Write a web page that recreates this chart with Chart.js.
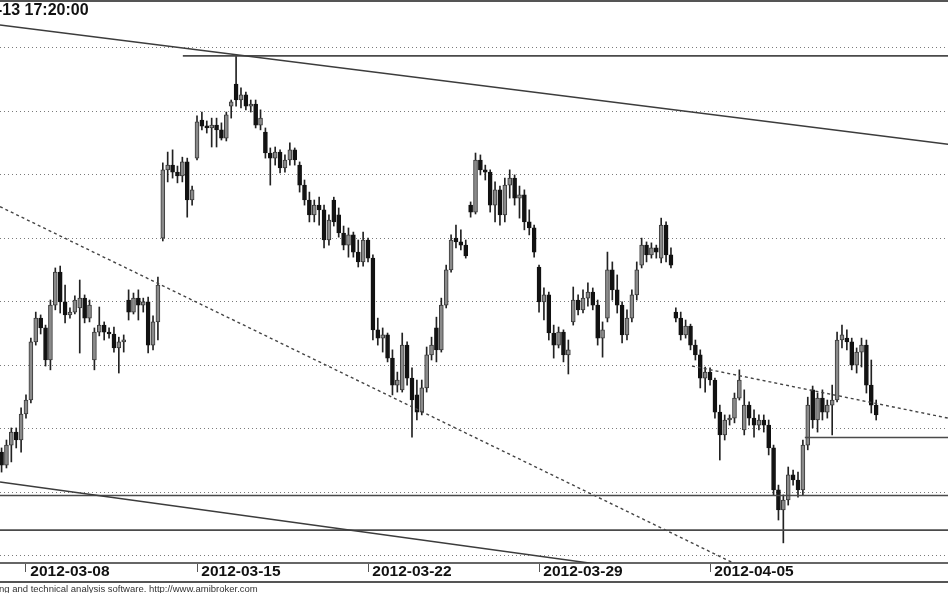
<!DOCTYPE html>
<html>
<head>
<meta charset="utf-8">
<script src="https://cdn.jsdelivr.net/npm/chart.js@4.4.0/dist/chart.umd.min.js"></script>
<style>
  html, body { margin: 0; padding: 0; background: #fff; }
  #wrap { position: relative; width: 948px; height: 593px; overflow: hidden; }
  #wrap canvas { position: absolute; left: 0; top: 0; }
  #stamp { position: absolute; left: -3px; top: 1px; font: bold 16px "Liberation Sans", Arial, sans-serif; color: #111; white-space: nowrap; }
  #credit { position: absolute; left: -1px; top: 583px; font: 9.5px "Liberation Sans", Arial, sans-serif; color: #333; white-space: nowrap; }
</style>
</head>
<body>
<div id="wrap">
  <canvas id="ohlc-chart" width="948" height="593"></canvas>
  <div id="stamp">-13 17:20:00</div>
  <div id="credit">ng and technical analysis software. http://www.amibroker.com</div>
</div>
<script>
// trading days shown, 7 hourly bars per day (first day is cut, only its last 5 bars show)
const days = [
  "2012-03-07", "2012-03-08", "2012-03-09", "2012-03-12", "2012-03-13", "2012-03-14",
  "2012-03-15", "2012-03-16", "2012-03-19", "2012-03-20", "2012-03-21", "2012-03-22",
  "2012-03-23", "2012-03-26", "2012-03-27", "2012-03-28", "2012-03-29", "2012-03-30",
  "2012-04-02", "2012-04-03", "2012-04-04", "2012-04-05", "2012-04-10", "2012-04-11",
  "2012-04-12", "2012-04-13"
];
const barsPerDay = 7;
const firstDaySkip = 2;
const tickDays = ["2012-03-08", "2012-03-15", "2012-03-22", "2012-03-29", "2012-04-05"];

// OHLC, one row per day
const opens = [
  2312.6, 2308.5, 2314.8, 2318.9, 2316.4,
  2324.6, 2329.0, 2347.3, 2354.8, 2351.7, 2341.6, 2358.9,
  2369.3, 2359.9, 2355.8, 2356.7, 2358.0, 2361.1, 2354.8,
  2341.6, 2350.4, 2352.6, 2350.4, 2349.8, 2345.4, 2347.3,
  2360.5, 2356.7, 2361.1, 2358.9, 2359.9, 2346.3, 2353.6,
  2380.0, 2401.5, 2403.0, 2400.8, 2399.6, 2404.0, 2392.0,
  2405.2, 2417.2, 2415.3, 2414.7, 2415.6, 2414.1, 2411.5,
  2421.6, 2428.5, 2423.5, 2425.1, 2421.6, 2422.2, 2415.6,
  2413.4, 2406.8, 2405.2, 2407.1, 2402.1, 2404.6, 2407.8,
  2403.0, 2396.7, 2392.0, 2387.3, 2390.4, 2388.9, 2379.4,
  2392.0, 2387.3, 2381.6, 2377.8, 2381.0, 2375.6, 2372.5,
  2379.4, 2373.7, 2351.1, 2348.5, 2349.5, 2342.2, 2333.7,
  2332.2, 2346.3, 2335.9, 2330.6, 2325.2, 2332.8, 2343.2,
  2351.7, 2344.8, 2358.9, 2370.0, 2380.0, 2378.8, 2377.8,
  2390.4, 2388.2, 2404.6, 2401.5, 2400.8, 2390.4, 2395.2,
  2387.3, 2396.7, 2398.9, 2392.6, 2393.6, 2385.1, 2383.2,
  2370.9, 2359.9, 2362.1, 2350.1, 2346.3, 2350.4, 2343.2,
  2353.6, 2360.5, 2357.4, 2361.1, 2363.0, 2358.9, 2348.5,
  2354.8, 2370.0, 2363.7, 2358.9, 2349.5, 2354.8, 2362.1,
  2371.5, 2377.8, 2374.7, 2376.9, 2373.7, 2384.1, 2374.7,
  2356.7, 2354.8, 2349.5, 2352.3, 2346.3, 2343.2, 2335.9,
  2337.8, 2335.3, 2325.2, 2318.0, 2322.7, 2323.3, 2329.6,
  2319.6, 2327.4, 2323.3, 2321.1, 2322.7, 2321.1, 2313.9,
  2300.7, 2294.4, 2297.5, 2305.4, 2303.8, 2300.7, 2314.8,
  2332.2, 2322.7, 2329.6, 2325.2, 2327.4, 2329.0, 2347.9,
  2348.5, 2347.3, 2340.0, 2344.1, 2346.3, 2333.7, 2327.4
];
const highs = [
  2313.9, 2316.4, 2320.2, 2320.2, 2326.5,
  2330.6, 2348.5, 2356.7, 2355.8, 2352.6, 2360.5, 2370.6,
  2371.2, 2365.2, 2358.0, 2361.8, 2366.8, 2362.1, 2360.5,
  2351.7, 2358.3, 2353.6, 2351.7, 2352.0, 2348.8, 2349.5,
  2363.7, 2362.7, 2363.7, 2361.1, 2361.4, 2355.5, 2367.7,
  2403.7, 2407.1, 2407.8, 2402.7, 2405.5, 2405.2, 2396.4,
  2418.5, 2419.7, 2416.9, 2417.8, 2417.8, 2416.3, 2419.7,
  2423.5, 2437.7, 2427.3, 2426.0, 2423.5, 2423.5, 2420.4,
  2414.7, 2408.4, 2408.7, 2407.8, 2406.2, 2410.0, 2408.4,
  2404.0, 2398.3, 2394.5, 2392.0, 2392.9, 2390.4, 2387.3,
  2392.9, 2389.5, 2383.8, 2383.2, 2381.9, 2379.4, 2381.9,
  2380.0, 2374.7, 2354.8, 2351.7, 2350.1, 2344.8, 2337.8,
  2350.1, 2347.3, 2339.1, 2335.3, 2335.3, 2345.7, 2348.8,
  2355.1, 2361.1, 2371.5, 2381.0, 2384.1, 2382.6, 2379.4,
  2391.4, 2406.8, 2406.2, 2403.0, 2401.5, 2397.7, 2396.4,
  2398.9, 2401.5, 2399.9, 2396.4, 2395.2, 2388.9, 2384.1,
  2371.5, 2364.3, 2363.0, 2352.6, 2352.0, 2351.1, 2347.9,
  2364.6, 2362.1, 2363.7, 2365.9, 2364.3, 2360.5, 2353.6,
  2375.6, 2372.5, 2368.4, 2359.9, 2357.4, 2363.7, 2372.5,
  2380.0, 2378.8, 2378.5, 2377.8, 2386.3, 2385.1, 2376.9,
  2358.0, 2356.7, 2354.2, 2352.9, 2347.9, 2344.8, 2339.4,
  2339.1, 2335.9, 2327.4, 2324.3, 2324.3, 2331.2, 2338.5,
  2332.2, 2328.4, 2325.9, 2324.3, 2324.3, 2322.7, 2314.8,
  2302.2, 2299.1, 2307.9, 2306.9, 2306.3, 2316.4, 2329.9,
  2333.4, 2331.2, 2332.2, 2329.0, 2333.7, 2350.4, 2352.6,
  2351.1, 2348.5, 2345.4, 2348.5, 2347.9, 2341.6, 2329.0
];
const lows = [
  2306.3, 2307.6, 2309.5, 2313.9, 2312.6,
  2323.3, 2328.1, 2346.3, 2349.8, 2339.7, 2338.5, 2357.4,
  2356.4, 2353.3, 2354.8, 2356.1, 2343.8, 2353.3, 2353.6,
  2338.5, 2349.2, 2347.9, 2348.5, 2344.1, 2337.5, 2344.1,
  2354.2, 2356.1, 2354.2, 2356.7, 2343.8, 2344.8, 2347.9,
  2379.1, 2397.7, 2398.9, 2397.4, 2397.7, 2386.6, 2390.4,
  2404.6, 2414.1, 2413.1, 2408.7, 2408.7, 2410.9, 2410.6,
  2417.8, 2421.6, 2421.0, 2420.4, 2419.7, 2414.7, 2414.1,
  2405.2, 2396.7, 2403.0, 2400.5, 2400.8, 2403.0, 2403.0,
  2394.5, 2390.4, 2385.1, 2385.1, 2384.1, 2376.9, 2377.8,
  2383.8, 2380.3, 2376.3, 2374.0, 2374.0, 2370.9, 2371.2,
  2372.5, 2347.9, 2346.3, 2344.1, 2341.0, 2330.6, 2331.5,
  2331.5, 2333.7, 2317.3, 2322.7, 2324.3, 2331.5, 2341.6,
  2341.0, 2344.1, 2358.0, 2369.3, 2376.9, 2376.3, 2373.7,
  2386.6, 2387.6, 2399.9, 2398.3, 2388.2, 2385.1, 2384.1,
  2385.1, 2392.6, 2390.4, 2386.3, 2382.6, 2381.0, 2374.0,
  2356.7, 2354.2, 2347.9, 2342.2, 2345.4, 2341.0, 2337.2,
  2352.6, 2355.8, 2356.4, 2358.6, 2357.4, 2346.3, 2342.5,
  2353.6, 2360.5, 2356.4, 2347.0, 2347.9, 2353.6, 2360.5,
  2370.6, 2372.5, 2373.7, 2373.7, 2372.2, 2372.5, 2370.6,
  2353.6, 2347.9, 2348.5, 2344.8, 2341.6, 2332.8, 2331.5,
  2333.7, 2323.3, 2310.1, 2316.4, 2321.1, 2321.8, 2329.0,
  2318.0, 2321.1, 2317.3, 2319.6, 2318.9, 2311.7, 2299.1,
  2291.2, 2284.0, 2295.9, 2302.2, 2298.4, 2299.1, 2313.3,
  2320.2, 2318.9, 2322.7, 2323.3, 2318.0, 2328.4, 2345.4,
  2344.8, 2338.5, 2337.5, 2339.4, 2331.2, 2324.9, 2322.7
];
const closes = [
  2308.5, 2314.8, 2318.9, 2316.4, 2324.6,
  2329.0, 2347.3, 2354.8, 2351.7, 2341.6, 2358.9, 2369.3,
  2359.9, 2355.8, 2356.7, 2360.5, 2361.1, 2354.8, 2358.9,
  2350.4, 2352.6, 2350.4, 2349.8, 2345.4, 2347.3, 2347.9,
  2356.7, 2361.1, 2358.9, 2359.9, 2346.3, 2353.6, 2365.2,
  2401.5, 2403.0, 2400.8, 2399.6, 2404.0, 2392.0, 2395.2,
  2416.6, 2415.3, 2414.7, 2415.6, 2414.1, 2411.5, 2418.8,
  2422.9, 2423.5, 2425.1, 2421.6, 2422.2, 2415.6, 2417.8,
  2406.8, 2405.2, 2407.1, 2402.1, 2404.6, 2407.8, 2404.6,
  2396.7, 2392.0, 2387.3, 2390.4, 2388.9, 2379.4, 2385.7,
  2385.1, 2381.6, 2377.8, 2381.0, 2375.6, 2372.5, 2379.4,
  2373.7, 2351.1, 2348.5, 2349.5, 2342.2, 2333.7, 2335.3,
  2346.3, 2335.9, 2329.0, 2325.2, 2332.8, 2343.2, 2346.3,
  2344.8, 2358.9, 2370.0, 2379.4, 2378.8, 2377.8, 2374.4,
  2388.2, 2404.6, 2401.5, 2400.8, 2390.4, 2395.2, 2387.3,
  2396.7, 2398.9, 2392.6, 2393.6, 2385.1, 2383.2, 2375.6,
  2359.9, 2362.1, 2350.1, 2346.3, 2350.4, 2343.2, 2344.8,
  2360.5, 2357.4, 2361.1, 2363.0, 2358.9, 2348.5, 2351.1,
  2370.0, 2363.7, 2358.9, 2349.5, 2354.8, 2362.1, 2370.0,
  2377.8, 2374.7, 2376.9, 2375.6, 2384.1, 2374.7, 2371.5,
  2354.8, 2349.5, 2352.3, 2346.3, 2343.2, 2335.9, 2337.8,
  2335.3, 2325.2, 2318.0, 2322.7, 2323.3, 2329.6, 2335.3,
  2327.4, 2323.3, 2321.1, 2322.7, 2321.1, 2313.9, 2300.7,
  2294.4, 2297.5, 2305.4, 2303.8, 2300.7, 2314.8, 2327.4,
  2322.7, 2329.6, 2325.2, 2327.4, 2329.0, 2347.9, 2349.5,
  2347.3, 2340.0, 2344.1, 2346.3, 2333.7, 2327.4, 2324.3
];

// price levels of the dotted grid
const yTicks = [2280, 2300, 2320, 2340, 2360, 2380, 2400, 2420, 2440];

// drawn studies: [barFrom, priceFrom, barTo, priceTo]
const trendLines = [[-0.32, 2447.1, 193.7, 2409.6], [-0.32, 2303.2, 193.7, 2262.1]];
const levelLines = [[37.1, 2437.4, 193.7, 2437.4], [-0.32, 2298.9, 193.7, 2298.9],
                    [-0.32, 2288.0, 193.7, 2288.0], [164.4, 2317.2, 193.7, 2317.2]];
const dottedLines = [[-0.32, 2389.9, 193.7, 2244.8], [141.3, 2339.7, 193.7, 2323.3]];

const dayStart = d => d * barsPerDay - firstDaySkip;
const tickValues = tickDays.map(d => dayStart(days.indexOf(d)));

const bodies = opens.map((o, i) => ({ x: i, y: [o, closes[i]] }));
const wicks = lows.map((l, i) => ({ x: i, y: [l, highs[i]] }));
const isUp = i => closes[i] >= opens[i];

function lineSet(seg, color, width, dash) {
  return {
    type: "line",
    data: [{ x: seg[0], y: seg[1] }, { x: seg[2], y: seg[3] }],
    borderColor: color,
    borderWidth: width,
    borderDash: dash,
    pointRadius: 0,
    fill: false,
    order: 1
  };
}

// frame lines above the plot and under the date strip
const frame = {
  id: "frame",
  afterDraw(chart) {
    const c = chart.ctx;
    const bottom = chart.scales.x.top + 19;
    c.save();
    c.strokeStyle = "#555";
    c.lineWidth = 2;
    c.beginPath();
    c.moveTo(0, 1);
    c.lineTo(chart.width, 1);
    c.moveTo(0, bottom);
    c.lineTo(chart.width, bottom);
    c.stroke();
    c.restore();
  }
};

let datasets = [
  { type: "bar", data: wicks, backgroundColor: "#222", barThickness: 1, grouped: false, order: 3 },
  {
    type: "bar",
    data: bodies,
    backgroundColor: c => isUp(c.dataIndex) ? "#8a8a8a" : "#121212",
    borderColor: c => isUp(c.dataIndex) ? "#3a3a3a" : "#121212",
    borderWidth: 1,
    borderSkipped: false,
    barThickness: 4,
    minBarLength: 2,
    grouped: false,
    order: 2
  }
];
trendLines.forEach(s => datasets.push(lineSet(s, "#3c3c3c", 1.5, [])));
levelLines.forEach(s => datasets.push(lineSet(s, "#4a4a4a", 1.6, [])));
dottedLines.forEach(s => datasets.push(lineSet(s, "#444", 1.4, [3, 3])));

let ctx = document.getElementById("ohlc-chart").getContext("2d");
new Chart(ctx, {
  type: "bar",
  data: { datasets: datasets },
  options: {
    responsive: false,
    animation: false,
    devicePixelRatio: 1,
    layout: { padding: { top: 3, left: 0, right: 0, bottom: 0 } },
    plugins: { legend: { display: false }, tooltip: { enabled: false } },
    scales: {
      x: {
        type: "linear",
        min: -0.32,
        max: 193.7,
        offset: false,
        afterBuildTicks: s => { s.ticks = tickValues.map(v => ({ value: v })); },
        afterFit: s => { s.height = 30; },
        grid: { offset: false, drawOnChartArea: false, drawTicks: true, tickLength: 9, color: "#555", lineWidth: 1 },
        border: { display: true, color: "#666", width: 2 },
        ticks: {
          align: "start",
          padding: -10,
          maxRotation: 0,
          autoSkip: false,
          color: "#111",
          font: { family: "'Liberation Sans', Arial, sans-serif", size: 15.5, weight: "bold" },
          callback: (v, i) => " " + tickDays[i]
        }
      },
      y: {
        min: 2277.66,
        max: 2454.06,
        afterBuildTicks: s => { s.ticks = yTicks.map(v => ({ value: v })); },
        afterFit: s => { s.width = 0; },
        ticks: { display: false },
        grid: { color: "#7a7a7a", drawTicks: false, lineWidth: 1 },
        border: { display: false, dash: [1, 3] }
      }
    }
  },
  plugins: [frame]
});
</script>
</body>
</html>
